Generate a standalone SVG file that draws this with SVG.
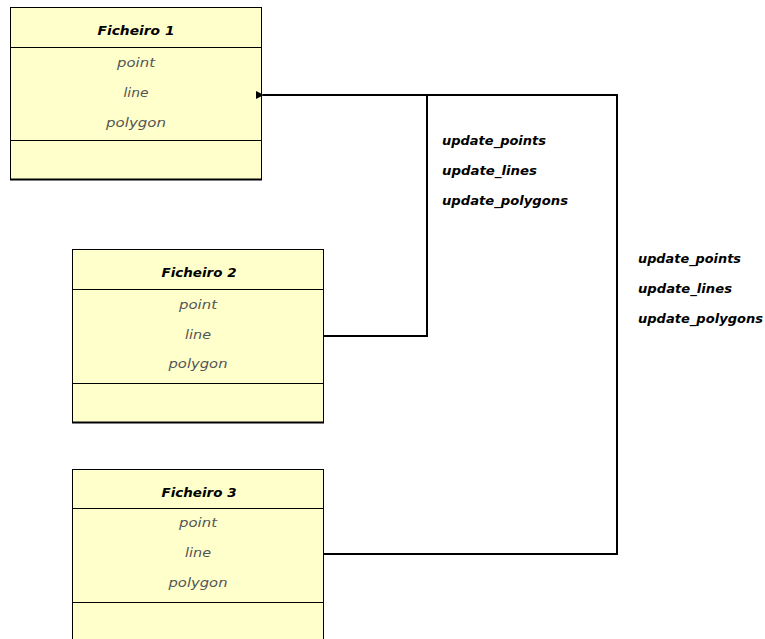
<svg xmlns="http://www.w3.org/2000/svg" width="765" height="639" viewBox="0 0 765 639">
  <style>
    .box { fill: #ffffcc; stroke: #000; stroke-width: 1; }
    .div { stroke: #000; stroke-width: 1; }
    text { font-family: "DejaVu Sans", "Liberation Sans", sans-serif; font-style: italic; }
    .title { font-size: 13px; font-weight: bold; fill: #000; text-anchor: middle; }
    .attr { font-size: 13px; fill: #555; text-anchor: middle; }
    .msg { font-size: 13px; font-weight: bold; fill: #000; }
    .wire { fill: none; stroke: #000; stroke-width: 2; }
  </style>
  <defs>
    <marker id="arrow" markerWidth="8" markerHeight="8" refX="1" refY="4" orient="auto" markerUnits="userSpaceOnUse">
      <path d="M8,0 L0,4 L8,8 Z" fill="#000"/>
    </marker>
  </defs>

  <rect width="765" height="639" fill="#fff"/>

  <g id="ficheiro1">
    <rect class="box" x="10.5" y="7.5" width="251" height="172"/>
    <line class="div" x1="10.5" y1="47.5" x2="261.5" y2="47.5"/>
    <line class="div" x1="10.5" y1="140.5" x2="261.5" y2="140.5"/>
    <line x1="10" y1="179.5" x2="262" y2="179.5" stroke="#000" stroke-width="2"/>
    <text class="title" x="136" y="35" textLength="77" lengthAdjust="spacingAndGlyphs">Ficheiro 1</text>
    <text class="attr" x="136" y="67" textLength="38" lengthAdjust="spacingAndGlyphs">point</text>
    <text class="attr" x="136" y="97" textLength="25" lengthAdjust="spacingAndGlyphs">line</text>
    <text class="attr" x="136" y="127" textLength="60" lengthAdjust="spacingAndGlyphs">polygon</text>
  </g>

  <g id="ficheiro2">
    <rect class="box" x="72.5" y="249.5" width="251" height="173"/>
    <line class="div" x1="72.5" y1="289.5" x2="323.5" y2="289.5"/>
    <line class="div" x1="72.5" y1="383.5" x2="323.5" y2="383.5"/>
    <line x1="72" y1="422.5" x2="324" y2="422.5" stroke="#000" stroke-width="2"/>
    <text class="title" x="199" y="277" textLength="75" lengthAdjust="spacingAndGlyphs">Ficheiro 2</text>
    <text class="attr" x="198" y="309" textLength="38" lengthAdjust="spacingAndGlyphs">point</text>
    <text class="attr" x="198" y="339" textLength="26" lengthAdjust="spacingAndGlyphs">line</text>
    <text class="attr" x="198" y="368" textLength="59" lengthAdjust="spacingAndGlyphs">polygon</text>
  </g>

  <g id="ficheiro3">
    <rect class="box" x="72.5" y="469.5" width="251" height="180"/>
    <line class="div" x1="72.5" y1="508.5" x2="323.5" y2="508.5"/>
    <line class="div" x1="72.5" y1="602.5" x2="323.5" y2="602.5"/>
    <text class="title" x="199" y="497" textLength="75" lengthAdjust="spacingAndGlyphs">Ficheiro 3</text>
    <text class="attr" x="198" y="527" textLength="38" lengthAdjust="spacingAndGlyphs">point</text>
    <text class="attr" x="198" y="557" textLength="26" lengthAdjust="spacingAndGlyphs">line</text>
    <text class="attr" x="198" y="587" textLength="59" lengthAdjust="spacingAndGlyphs">polygon</text>
  </g>

  <g id="connectors">
    <path class="wire" d="M324,336 H427 V95 H263" marker-end="url(#arrow)"/>
    <path class="wire" d="M324,554 H617 V95 H427"/>
    <text class="msg" x="442" y="145" textLength="104" lengthAdjust="spacingAndGlyphs">update_points</text>
    <text class="msg" x="442" y="175" textLength="95" lengthAdjust="spacingAndGlyphs">update_lines</text>
    <text class="msg" x="442" y="205" textLength="126" lengthAdjust="spacingAndGlyphs">update_polygons</text>
    <text class="msg" x="638" y="263" textLength="103" lengthAdjust="spacingAndGlyphs">update_points</text>
    <text class="msg" x="638" y="293" textLength="94" lengthAdjust="spacingAndGlyphs">update_lines</text>
    <text class="msg" x="638" y="323" textLength="125" lengthAdjust="spacingAndGlyphs">update_polygons</text>
  </g>
</svg>
